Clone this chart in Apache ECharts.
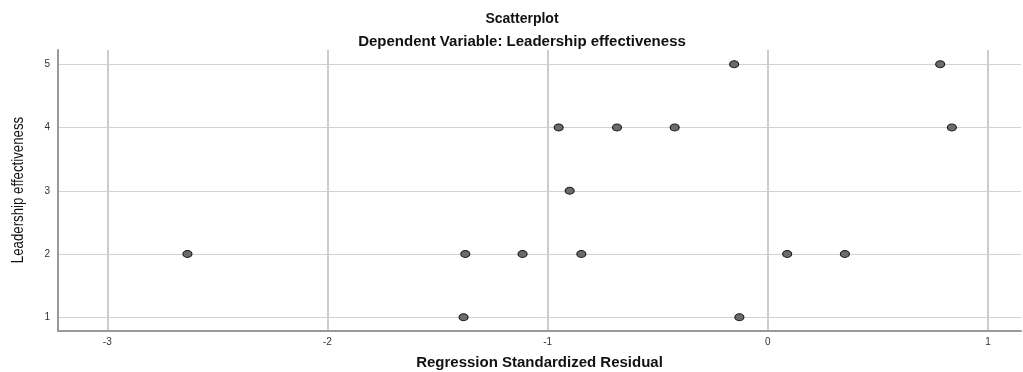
<!DOCTYPE html>
<html>
<head>
<meta charset="utf-8">
<script src="https://cdn.jsdelivr.net/npm/echarts@6/dist/echarts.min.js"></script>
<style>
  html, body { margin: 0; padding: 0; background: #fff; }
  #chart { width: 1023px; height: 372px; }
</style>
</head>
<body>
<div id="chart"></div>
<script>
// regression standardized residual (x) vs leadership effectiveness (y)
var residuals = [-0.153, 0.783, -0.95, -0.685, -0.423, 0.836, -0.9,
                 -2.636, -1.374, -1.114, -0.847, 0.088, 0.35, -1.382, -0.129];
var effectiveness = [5, 5, 4, 4, 4, 4, 3, 2, 2, 2, 2, 2, 2, 1, 1];
var xTicks = [-3, -2, -1, 0, 1];
var yTicks = [1, 2, 3, 4, 5];

var points = residuals.map(function (r, i) { return [r, effectiveness[i]]; });

var myChart = echarts.init(document.getElementById('chart'));

var option = {
    backgroundColor: '#fff',
    animation: false,
    title: [
        {
            text: 'Scatterplot',
            left: 517, top: 7, textAlign: 'center',
            textStyle: { fontFamily: 'Liberation Sans', fontSize: 14, fontWeight: 'bold', color: '#111' }
        },
        {
            text: 'Dependent Variable: Leadership effectiveness',
            left: 517, top: 29, textAlign: 'center',
            textStyle: { fontFamily: 'Liberation Sans', fontSize: 15, fontWeight: 'bold', color: '#111' }
        }
    ],
    // y axis title drawn narrow, like the condensed SPSS font
    graphic: [
        {
            type: 'text',
            x: 18, y: 190,
            rotation: Math.PI / 2,
            scaleX: 0.78,
            style: {
                text: 'Leadership effectiveness',
                font: '17px "Liberation Sans", sans-serif',
                fill: '#111',
                align: 'center',
                verticalAlign: 'middle'
            }
        }
    ],
    grid: { left: 58, right: 2, top: 50, bottom: 41, containLabel: false, outerBoundsMode: 'none' },
    xAxis: {
        type: 'value',
        min: -3.224, max: 1.15,
        name: 'Regression Standardized Residual',
        nameLocation: 'middle',
        nameGap: 24,
        nameTextStyle: { fontFamily: 'Liberation Sans', fontSize: 15, fontWeight: 'bold', color: '#111' },
        axisLine: { show: true, onZero: false, lineStyle: { color: '#999', width: 2 } },
        axisTick: { show: false, customValues: xTicks },
        axisLabel: { customValues: xTicks, fontFamily: 'Liberation Sans', fontSize: 10, color: '#333', margin: 6 },
        splitLine: { show: true, lineStyle: { color: '#cdcdcd', width: 2 } }
    },
    yAxis: {
        type: 'value',
        min: 0.783, max: 5.226,
        axisLine: { show: true, onZero: false, lineStyle: { color: '#999', width: 2 } },
        axisTick: { show: false, customValues: yTicks },
        axisLabel: { customValues: yTicks, fontFamily: 'Liberation Sans', fontSize: 10, color: '#333', margin: 8 },
        splitLine: { show: true, lineStyle: { color: '#d2d2d2', width: 1 } }
    },
    series: [
        {
            type: 'scatter',
            data: points,
            symbol: 'circle',
            symbolSize: [9, 7],
            itemStyle: { color: '#6b6b6b', borderColor: '#1a1a1a', borderWidth: 1, opacity: 1 }
        }
    ]
};

myChart.setOption(option);
</script>
</body>
</html>
